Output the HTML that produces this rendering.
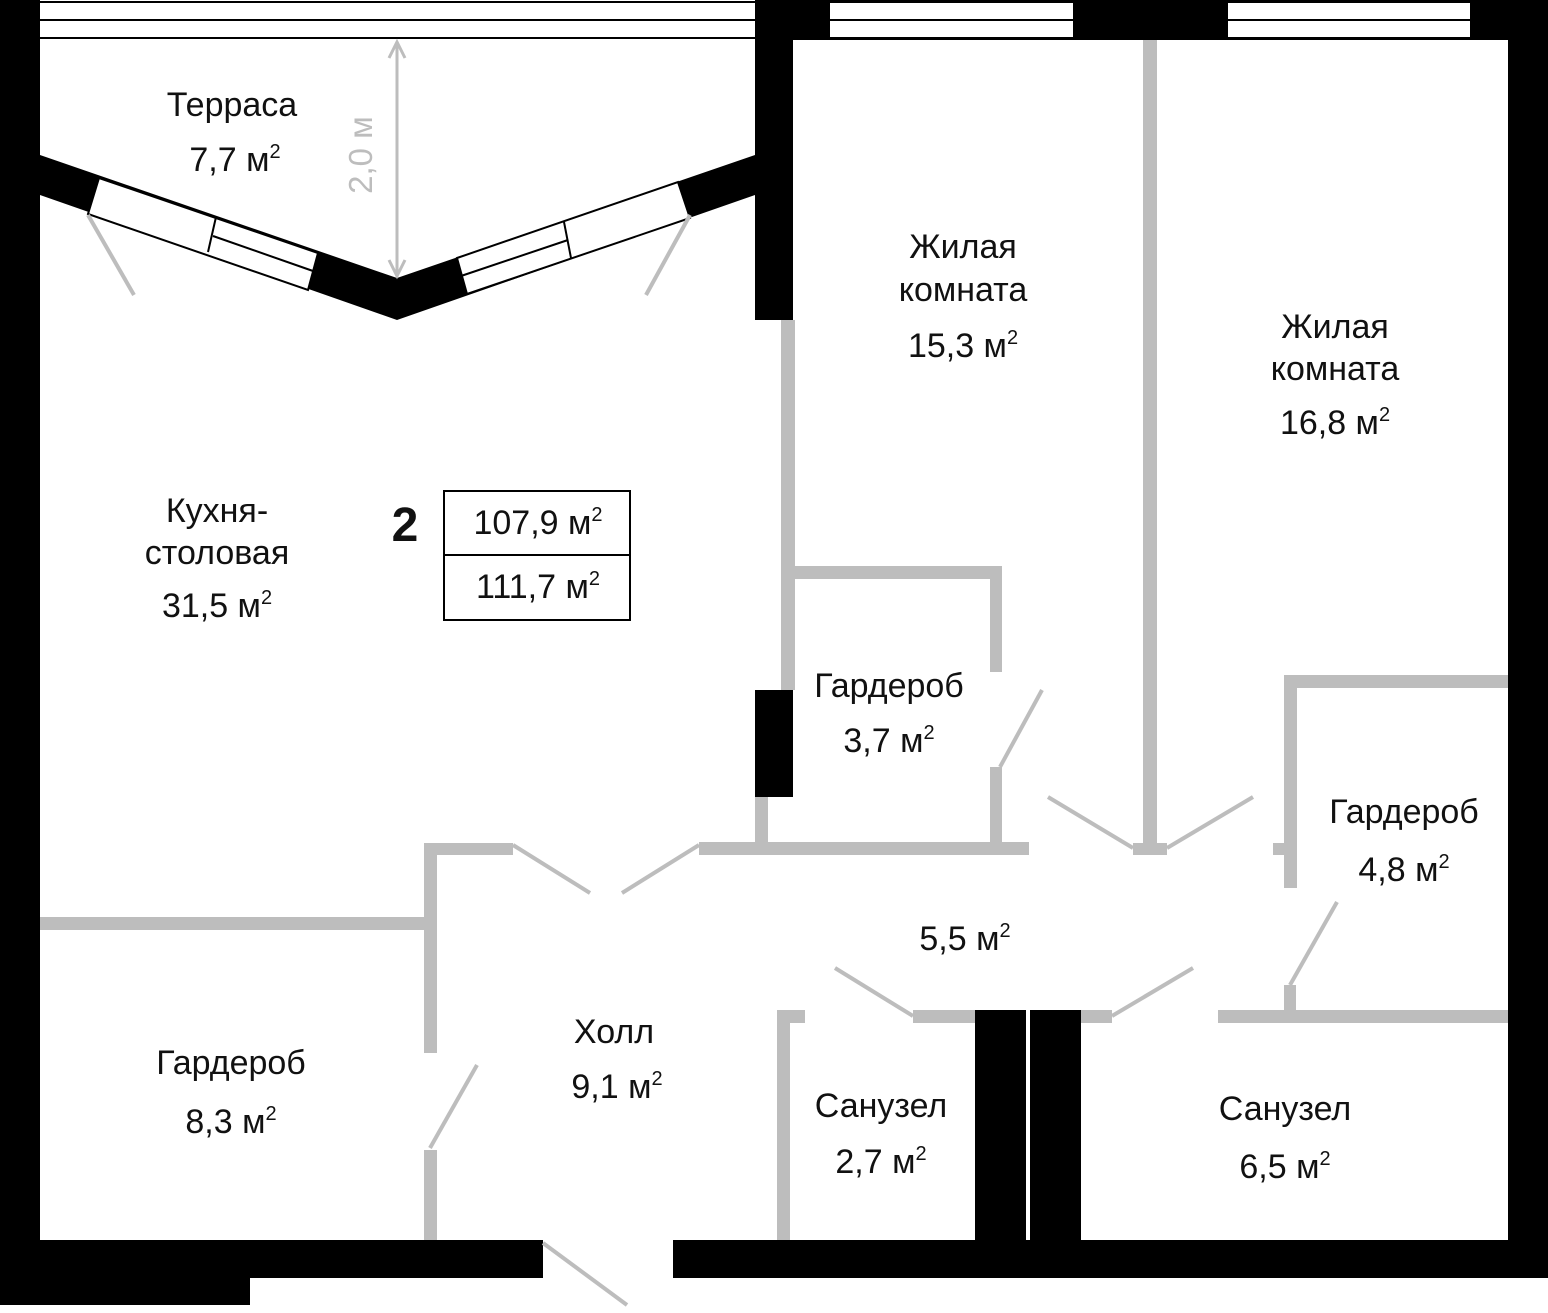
<!DOCTYPE html>
<html><head><meta charset="utf-8"><style>
html,body{margin:0;padding:0;background:#fff}
svg{display:block}
text{font-family:"Liberation Sans","DejaVu Sans",sans-serif;font-size:34px;fill:#111;text-anchor:middle}
.s{font-size:20px}
.g{fill:#bdbdbd}
</style></head><body>
<svg width="1548" height="1313" viewBox="0 0 1548 1313" xmlns="http://www.w3.org/2000/svg">
<rect x="40" y="1" width="715" height="2" fill="#000"/>
<rect x="40" y="19" width="715" height="2" fill="#000"/>
<rect x="40" y="37" width="715" height="2" fill="#000"/>
<rect x="755" y="0" width="793" height="3" fill="#000"/>
<rect x="830" y="19" width="243" height="2" fill="#000"/>
<rect x="1228" y="19" width="242" height="2" fill="#000"/>
<rect x="755" y="37" width="753" height="3" fill="#000"/>
<rect x="755" y="0" width="75" height="40" fill="#000"/>
<rect x="1073" y="0" width="155" height="40" fill="#000"/>
<rect x="1470" y="0" width="78" height="40" fill="#000"/>
<rect x="0" y="0" width="40" height="1278" fill="#000"/>
<rect x="1508" y="0" width="40" height="1278" fill="#000"/>
<rect x="0" y="1240" width="543" height="38" fill="#000"/>
<rect x="0" y="1278" width="250" height="27" fill="#000"/>
<rect x="673" y="1240" width="875" height="38" fill="#000"/>
<rect x="755" y="0" width="38" height="320" fill="#000"/>
<rect x="755" y="690" width="38" height="107" fill="#000"/>
<rect x="975" y="1010" width="51" height="230" fill="#000"/>
<rect x="1030" y="1010" width="51" height="230" fill="#000"/>
<polygon points="40,155 397,278 755,155 755,195 397,320 40,195" fill="#000"/>
<polygon points="99,178 318,253 308,290 88,214" fill="#fff" stroke="#000" stroke-width="2"/>
<line x1="216" y1="217" x2="208" y2="252" stroke="#000" stroke-width="2"/>
<line x1="213" y1="236" x2="313" y2="271" stroke="#000" stroke-width="2"/>
<polygon points="457,258 678,182 690,218 467,294" fill="#fff" stroke="#000" stroke-width="2"/>
<line x1="564" y1="222" x2="571" y2="258" stroke="#000" stroke-width="2"/>
<line x1="461" y1="276" x2="568" y2="240" stroke="#000" stroke-width="2"/>
<g class="g">
<rect x="781" y="320" width="14" height="370"/>
<rect x="755" y="797" width="13" height="48"/>
<rect x="793" y="566" width="209" height="13"/>
<rect x="990" y="566" width="12" height="106"/>
<rect x="990" y="767" width="12" height="78"/>
<rect x="699" y="842" width="330" height="13"/>
<rect x="1143" y="40" width="14" height="805"/>
<rect x="1133" y="843" width="34" height="12"/>
<rect x="1284" y="675" width="13" height="213"/>
<rect x="1284" y="675" width="224" height="13"/>
<rect x="1273" y="843" width="17" height="12"/>
<rect x="1284" y="985" width="12" height="30"/>
<rect x="1218" y="1010" width="290" height="13"/>
<rect x="913" y="1010" width="62" height="13"/>
<rect x="1081" y="1010" width="31" height="13"/>
<rect x="777" y="1010" width="13" height="230"/>
<rect x="777" y="1010" width="28" height="13"/>
<rect x="424" y="843" width="13" height="210"/>
<rect x="424" y="843" width="89" height="12"/>
<rect x="40" y="917" width="390" height="13"/>
<rect x="424" y="1150" width="13" height="90"/>
</g>
<g stroke="#bdbdbd" stroke-width="4">
<line x1="88" y1="215" x2="134" y2="295"/>
<line x1="690" y1="215" x2="646" y2="295"/>
<line x1="1042" y1="690" x2="1000" y2="767"/>
<line x1="1048" y1="797" x2="1133" y2="848"/>
<line x1="1253" y1="797" x2="1167" y2="848"/>
<line x1="1337" y1="902" x2="1290" y2="985"/>
<line x1="835" y1="968" x2="913" y2="1016"/>
<line x1="1193" y1="968" x2="1112" y2="1016"/>
<line x1="513" y1="845" x2="590" y2="893"/>
<line x1="622" y1="893" x2="699" y2="845"/>
<line x1="430" y1="1148" x2="477" y2="1065"/>
<line x1="543" y1="1243" x2="627" y2="1305"/>
<line x1="397" y1="42" x2="397" y2="276" stroke-width="3"/>
<polyline points="389,58 397,42 405,58" fill="none" stroke-width="3"/>
<polyline points="389,260 397,276 405,260" fill="none" stroke-width="3"/>
</g>
<text x="372" y="155" transform="rotate(-90 372 155)" style="fill:#bdbdbd;font-size:33px">2,0 м</text>
<rect x="444" y="491" width="186" height="129" fill="none" stroke="#000" stroke-width="2"/>
<line x1="444" y1="555" x2="630" y2="555" stroke="#000" stroke-width="2"/>
<text x="538" y="534">107,9 м<tspan class="s" dy="-13">2</tspan></text>
<text x="538" y="598">111,7 м<tspan class="s" dy="-13">2</tspan></text>
<text x="405" y="541" style="font-size:48px;font-weight:bold">2</text>
<text x="232" y="116">Терраса</text>
<text x="235" y="171">7,7 м<tspan class="s" dy="-13">2</tspan></text>
<text x="963" y="258">Жилая</text>
<text x="963" y="301">комната</text>
<text x="963" y="357">15,3 м<tspan class="s" dy="-13">2</tspan></text>
<text x="1335" y="338">Жилая</text>
<text x="1335" y="380">комната</text>
<text x="1335" y="434">16,8 м<tspan class="s" dy="-13">2</tspan></text>
<text x="217" y="522">Кухня-</text>
<text x="217" y="564">столовая</text>
<text x="217" y="617">31,5 м<tspan class="s" dy="-13">2</tspan></text>
<text x="889" y="697">Гардероб</text>
<text x="889" y="752">3,7 м<tspan class="s" dy="-13">2</tspan></text>
<text x="1404" y="823">Гардероб</text>
<text x="1404" y="881">4,8 м<tspan class="s" dy="-13">2</tspan></text>
<text x="965" y="950">5,5 м<tspan class="s" dy="-13">2</tspan></text>
<text x="231" y="1074">Гардероб</text>
<text x="231" y="1133">8,3 м<tspan class="s" dy="-13">2</tspan></text>
<text x="614" y="1043">Холл</text>
<text x="617" y="1098">9,1 м<tspan class="s" dy="-13">2</tspan></text>
<text x="881" y="1117">Санузел</text>
<text x="881" y="1173">2,7 м<tspan class="s" dy="-13">2</tspan></text>
<text x="1285" y="1120">Санузел</text>
<text x="1285" y="1178">6,5 м<tspan class="s" dy="-13">2</tspan></text>
</svg>
</body></html>
